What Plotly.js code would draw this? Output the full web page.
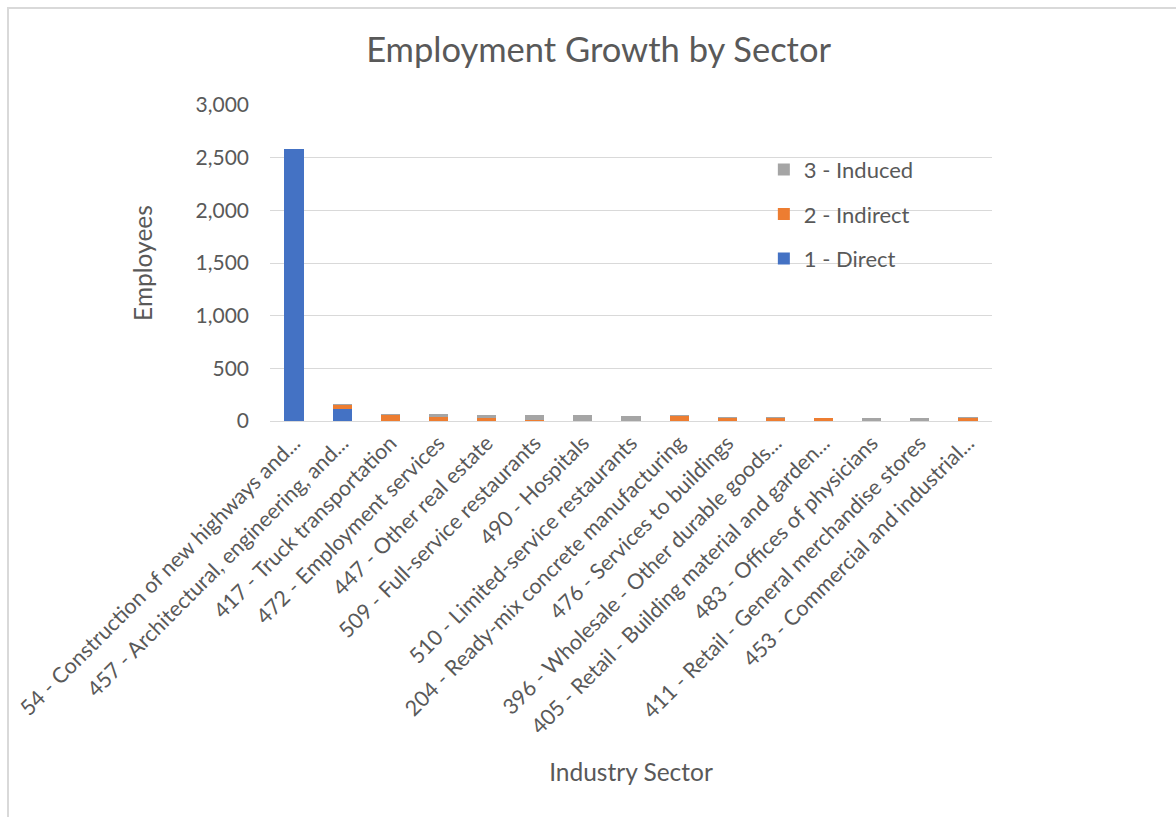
<!DOCTYPE html>
<html>
<head>
<meta charset="utf-8">
<script src="https://cdn.plot.ly/plotly-3.0.1.min.js"></script>
<style>
html,body{margin:0;padding:0;background:#fff;overflow:hidden;}
#frame{position:absolute;left:7px;top:7px;width:1200px;height:900px;border-top:2px solid #d9d9d9;border-left:2px solid #d9d9d9;pointer-events:none;z-index:2;}
#chart{position:absolute;left:0;top:0;width:1176px;height:817px;}
</style>
</head>
<body>
<div id="chart"></div>
<div id="frame"></div>
<script>
const categories = [
  "54 - Construction of new highways and...",
  "457 - Architectural, engineering, and...",
  "417 - Truck transportation",
  "472 - Employment services",
  "447 - Other real estate",
  "509 - Full-service restaurants",
  "490 - Hospitals",
  "510 - Limited-service restaurants",
  "204 - Ready-mix concrete manufacturing",
  "476 - Services to buildings",
  "396 - Wholesale - Other durable goods...",
  "405 - Retail - Building material and garden...",
  "483 - Offices of physicians",
  "411 - Retail - General merchandise stores",
  "453 - Commercial and industrial..."
];
const direct   = [2578, 114, 0, 0, 0, 0, 0, 0, 0, 0, 0, 0, 0, 0, 0];
const indirect = [0, 38, 57, 42, 30, 5, 0, 0, 50, 32, 33, 25, 0, 2, 32];
const induced  = [0, 6, 9, 22, 25, 50, 55, 45, 3, 5, 2, 8, 29, 27, 2];

const seriesNames = ["1 - Direct", "2 - Indirect", "3 - Induced"];
const colors = ["#4472c4", "#ed7d31", "#a5a5a5"];
const values = [direct, indirect, induced];

const font = "Lato, 'Open Sans', sans-serif";
const grey = "#595959";

const traces = values.map((v, i) => ({
  type: "bar",
  x: categories,
  y: v,
  name: seriesNames[i],
  legendgroup: "g" + i,
  legendrank: 1000 - i,
  marker: {color: colors[i], line: {width: 0}},
  hoverinfo: "x+y+name"
}));

const layout = {
  width: 1176,
  height: 817,
  margin: {l: 270, r: 184, t: 105, b: 396, pad: 0},
  paper_bgcolor: "#ffffff",
  plot_bgcolor: "#ffffff",
  barmode: "stack",
  bargap: 0.6,
  title: {
    text: "Employment Growth by Sector",
    font: {family: font, size: 34.5, color: grey},
    x: 0.509, xanchor: "center",
    y: 0.939, yanchor: "middle"
  },
  font: {family: font, color: grey},
  xaxis: {
    type: "category",
    tickangle: -45,
    tickfont: {family: font, size: 21.5, color: grey},
    showgrid: false,
    showline: true,
    linecolor: "#d9d9d9",
    linewidth: 1,
    ticks: "",
    automargin: false,
    title: {text: "Industry Sector", font: {family: font, size: 24.5, color: grey}, standoff: 25},
    fixedrange: true
  },
  yaxis: {
    range: [0, 3000],
    dtick: 500,
    tickformat: ",",
    tickfont: {family: font, size: 21, color: grey},
    ticklabelstandoff: 20,
    showgrid: true,
    gridcolor: "#d9d9d9",
    gridwidth: 1,
    zeroline: false,
    showline: false,
    ticks: "",
    ticklen: 0,
    automargin: false,
    title: {text: "Employees", font: {family: font, size: 24.5, color: grey}, standoff: 35},
    fixedrange: true
  },
  legend: {
    x: 0.684, xanchor: "left",
    y: 0.862, yanchor: "top",
    traceorder: "grouped",
    tracegroupgap: 13,
    font: {family: font, size: 22, color: grey},
    bgcolor: "rgba(0,0,0,0)",
    itemwidth: 30
  },
  showlegend: true
};

Plotly.newPlot("chart", traces, layout, {displayModeBar: false, staticPlot: true});
</script>
</body>
</html>
